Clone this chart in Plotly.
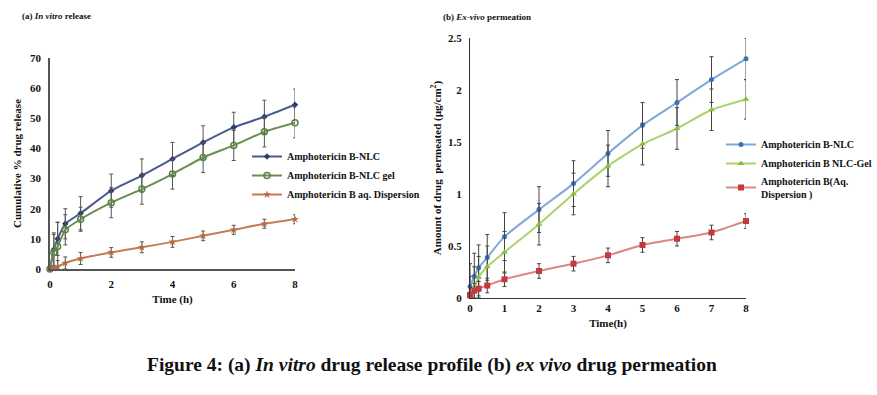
import plotly.graph_objects as go

# ---- Data: (a) In vitro release ----
t_a = [0, 0.125, 0.25, 0.5, 1, 2, 3, 4, 5, 6, 7, 8]
nlc_a = [0, 6.5, 10, 15, 18.5, 26, 31, 36.5, 42, 47, 50.5, 54.5]
nlc_a_err = [0.5, 5.5, 5.5, 5, 5.5, 5.5, 5.5, 5.5, 5.5, 5, 5.5, 5.2]
gel_a = [0, 5.5, 7.5, 13, 16.5, 22, 26.5, 31.5, 37, 41, 45.5, 48.5]
gel_a_err = [0.5, 6, 8, 5, 4, 5, 5, 5, 5, 5, 5, 5]
aq_a = [0, 0.2, 0.8, 2, 3.5, 5.5, 7.2, 9, 11, 13, 15, 16.5]
aq_a_err = [0.5, 1, 2, 2, 2, 1.6, 1.8, 1.8, 1.6, 1.5, 1.5, 1.5]

# ---- Data: (b) Ex-vivo permeation ----
t_b = [0, 0.125, 0.25, 0.5, 1, 2, 3, 4, 5, 6, 7, 8]
nlc_b = [0.11, 0.21, 0.29, 0.39, 0.59, 0.85, 1.10, 1.39, 1.66, 1.88, 2.10, 2.30]
nlc_b_err = [0.22, 0.22, 0.22, 0.22, 0.23, 0.22, 0.22, 0.22, 0.22, 0.22, 0.22, 0.20]
gel_b = [0.01, 0.10, 0.20, 0.30, 0.44, 0.71, 1.00, 1.27, 1.48, 1.63, 1.81, 1.91]
gel_b_err = [0.2, 0.2, 0.2, 0.2, 0.2, 0.2, 0.2, 0.2, 0.2, 0.2, 0.2, 0.19]
aq_b = [0.03, 0.07, 0.09, 0.12, 0.18, 0.26, 0.33, 0.41, 0.51, 0.57, 0.63, 0.74]
aq_b_err = [0.07, 0.07, 0.07, 0.07, 0.07, 0.07, 0.07, 0.07, 0.07, 0.07, 0.07, 0.07]

legend_a = ["Amphotericin B-NLC", "Amphotericin B-NLC gel", "Amphotericin B aq. Dispersion"]
legend_b = ["Amphotericin B-NLC", "Amphotericin B NLC-Gel", "Amphotericin B(Aq.<br>Dispersion )"]

FONT = "Liberation Serif"
W, H = 877, 395


def px_x(p):
    return p / W


def px_y(p):
    return 1 - p / H


def err(vals, color="#555555"):
    return dict(type="data", array=vals, visible=True, color=color, thickness=1, width=2)


fig = go.Figure()

# (a)
fig.add_trace(go.Scatter(x=t_a, y=nlc_a, name=legend_a[0], mode="lines+markers",
                         line=dict(color="#4a5a8c", width=2, shape="spline", smoothing=0.5),
                         marker=dict(symbol="diamond", size=5, color="#2f3d72"),
                         error_y=err(nlc_a_err), xaxis="x", yaxis="y", legend="legend", cliponaxis=False))
fig.add_trace(go.Scatter(x=t_a, y=gel_a, name=legend_a[1], mode="lines+markers",
                         line=dict(color="#6a8f50", width=2, shape="spline", smoothing=0.5),
                         marker=dict(symbol="circle-open", size=6, color="#5c8544", line=dict(width=1.5)),
                         error_y=err(gel_a_err), xaxis="x", yaxis="y", legend="legend", cliponaxis=False))
fig.add_trace(go.Scatter(x=t_a, y=aq_a, name=legend_a[2], mode="lines+markers",
                         line=dict(color="#c27d58", width=2, shape="spline", smoothing=0.5),
                         marker=dict(symbol="star", size=6, color="#b8693f"),
                         error_y=err(aq_a_err), xaxis="x", yaxis="y", legend="legend", cliponaxis=False))

# (b)
fig.add_trace(go.Scatter(x=t_b, y=nlc_b, name=legend_b[0], mode="lines+markers",
                         line=dict(color="#7fa7d8", width=2, shape="spline", smoothing=0.6),
                         marker=dict(symbol="circle", size=5, color="#3a72b8"),
                         error_y=err(nlc_b_err, "#444444"), xaxis="x2", yaxis="y2", legend="legend2", cliponaxis=False))
fig.add_trace(go.Scatter(x=t_b, y=gel_b, name=legend_b[1], mode="lines+markers",
                         line=dict(color="#a9d36c", width=2, shape="spline", smoothing=0.6),
                         marker=dict(symbol="triangle-up", size=6, color="#8cbb3e"),
                         error_y=err(gel_b_err, "#444444"), xaxis="x2", yaxis="y2", legend="legend2", cliponaxis=False))
fig.add_trace(go.Scatter(x=t_b, y=aq_b, name=legend_b[2], mode="lines+markers",
                         line=dict(color="#d98686", width=2, shape="spline", smoothing=0.6),
                         marker=dict(symbol="square", size=6, color="#c23a3c"),
                         error_y=err(aq_b_err, "#444444"), xaxis="x2", yaxis="y2", legend="legend2", cliponaxis=False))

titlefont = dict(family=FONT, size=11, color="#111111", weight="bold")

axis_common = dict(showgrid=False, zeroline=False, showline=True, ticks="", automargin=False,
                   tickfont=dict(family=FONT, size=11, color="#111111", weight="bold"))

legfont = dict(family=FONT, size=10, color="#111111", weight="bold")

fig.update_layout(
    width=W, height=H,
    margin=dict(l=0, r=0, t=0, b=0),
    paper_bgcolor="white", plot_bgcolor="white",
    font=dict(family=FONT, color="#111111"),
    xaxis=dict(domain=[px_x(50), px_x(295)], range=[0, 8], tickvals=[0, 2, 4, 6, 8],
               anchor="y", linecolor="#555555", linewidth=1.5, ticklabelstandoff=4,
               title=dict(text="Time (h)", font=titlefont, standoff=6), **axis_common),
    yaxis=dict(domain=[px_y(269), px_y(58)], range=[0, 70], tickvals=[0, 10, 20, 30, 40, 50, 60, 70],
               anchor="x", linecolor="#555555", linewidth=1.5, ticklabelstandoff=5,
               title=dict(text="Cumulative % drug release", font=titlefont, standoff=6), **axis_common),
    xaxis2=dict(domain=[px_x(470), px_x(746)], range=[0, 8], tickvals=list(range(9)),
                anchor="y2", linecolor="#333333", linewidth=1.2,
                title=dict(text="Time(h)", font=titlefont, standoff=6), **axis_common),
    yaxis2=dict(domain=[px_y(298), px_y(38)], range=[0, 2.5], tickvals=[0, 0.5, 1, 1.5, 2, 2.5],
                ticktext=["0", "0.5", "1", "1.5", "2", "2.5"],
                anchor="x2", linecolor="#333333", linewidth=1.2, ticklabelstandoff=5,
                title=dict(text="Amount of drug  permeated (µg/cm<sup>2</sup>)", font=titlefont, standoff=4),
                **axis_common),
    legend=dict(x=px_x(247), y=px_y(142), xanchor="left", yanchor="top",
                bgcolor="rgba(0,0,0,0)", itemwidth=30, font=legfont, tracegroupgap=0),
    legend2=dict(x=px_x(721), y=px_y(130), xanchor="left", yanchor="top",
                 bgcolor="rgba(0,0,0,0)", itemwidth=30, font=legfont, tracegroupgap=0),
    showlegend=True,
)

fig.add_annotation(x=px_x(20), y=px_y(16), xref="paper", yref="paper", xanchor="left", yanchor="middle",
                   text="<b>(a) <i>In vitro</i> release</b>", showarrow=False,
                   font=dict(family=FONT, size=9, color="#111111"))
fig.add_annotation(x=px_x(441), y=px_y(17), xref="paper", yref="paper", xanchor="left", yanchor="middle",
                   text="<b>(b) <i>Ex-vivo</i> permeation</b>", showarrow=False,
                   font=dict(family=FONT, size=9, color="#111111"))
fig.add_annotation(x=px_x(432), y=px_y(365), xref="paper", yref="paper", xanchor="center", yanchor="middle",
                   text="<b>Figure 4: (a) <i>In vitro</i> drug release profile (b) <i>ex vivo</i> drug permeation</b>",
                   showarrow=False, font=dict(family=FONT, size=19.5, color="#111111"))

fig.write_html("out.html", config={"displayModeBar": False},
               post_script="document.body.style.margin='0';document.body.style.overflow='hidden';")
